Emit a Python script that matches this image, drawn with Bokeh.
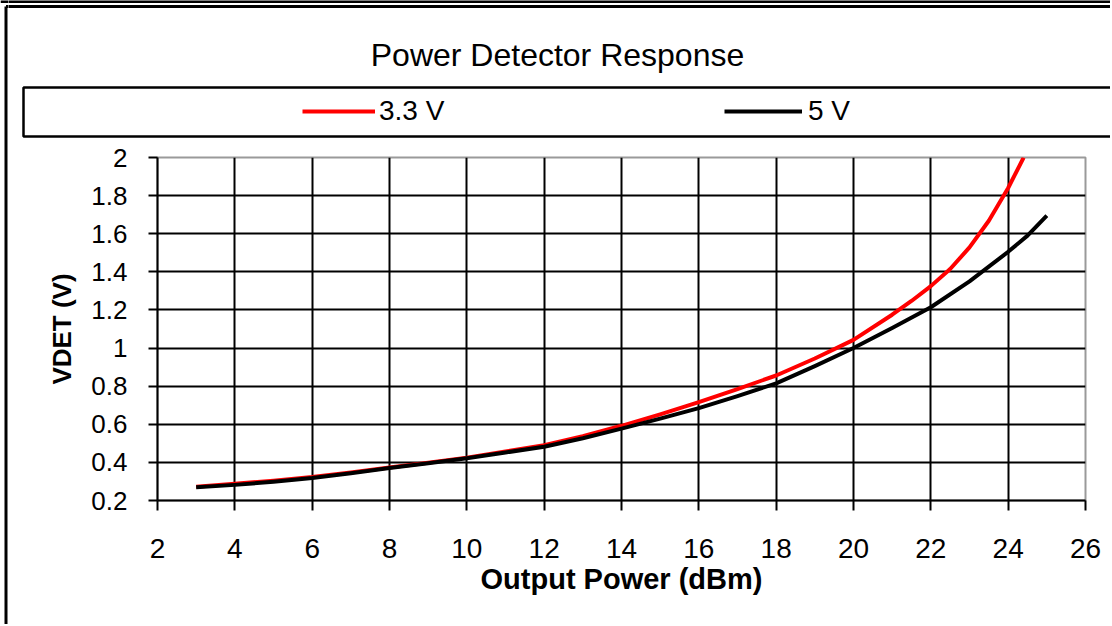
from bokeh.plotting import figure
from bokeh.layouts import column, row
from bokeh.models import (Range1d, FixedTicker, NumeralTickFormatter, Label,
                          Legend, LegendItem)
from bokeh.embed import file_html
from bokeh.resources import INLINE

# ---- data ----
power_3v3 = [3, 4, 5, 6, 7, 8, 9, 10, 11, 12, 13, 14, 15, 16, 17, 18, 19, 20, 21, 21.5, 22,
             22.5, 23, 23.5, 24, 24.4]
vdet_3v3 = [0.272, 0.288, 0.304, 0.323, 0.347, 0.373, 0.398, 0.425, 0.457, 0.49, 0.538,
            0.592, 0.652, 0.716, 0.785, 0.856, 0.945, 1.043, 1.175, 1.247, 1.325,
            1.415, 1.528, 1.668, 1.84, 2.0]
power_5v = [3, 4, 5, 6, 7, 8, 9, 10, 11, 12, 13, 14, 15, 16, 17, 18, 19, 20, 21, 22, 23, 24,
            24.5, 25]
vdet_5v = [0.27, 0.282, 0.298, 0.318, 0.343, 0.37, 0.396, 0.422, 0.452, 0.482, 0.527,
           0.577, 0.63, 0.685, 0.748, 0.815, 0.905, 1.0, 1.105, 1.214, 1.35, 1.505,
           1.59, 1.695]
x_ticks = [2, 4, 6, 8, 10, 12, 14, 16, 18, 20, 22, 24, 26]
y_ticks = [0.2, 0.4, 0.6, 0.8, 1.0, 1.2, 1.4, 1.6, 1.8, 2.0]
series_names = ["3.3 V", "5 V"]
series_colors = ["#ff0000", "#000000"]
title_text = "Power Detector Response"
x_label = "Output Power (dBm)"
y_label = "VDET (V)"

FONT = "Liberation Sans"
TOTAL_W, TOTAL_H = 1110, 624
L_W = 8
H_HEAD = 139
BODY_W = TOTAL_W - L_W
H_BODY = TOTAL_H - H_HEAD


def bare(width, height, xr, yr):
    f = figure(width=width, height=height, x_range=xr, y_range=yr,
               x_axis_type=None, y_axis_type=None, output_backend="svg",
               toolbar_location=None, title=None, min_border=0)
    f.outline_line_color = None
    f.background_fill_color = "white"
    f.border_fill_color = "white"
    f.frame_align = False
    return f


# ---- left strip: chart border (full height) ----
strip = bare(L_W, TOTAL_H, Range1d(0, L_W), Range1d(TOTAL_H, 0))
strip.multi_line(xs=[[5.5, 5.5], [0, 10], [5.5, 10]], ys=[[6, TOTAL_H + 20], [1, 1], [6, 6]],
                 line_color="black", line_width=3)

# ---- header: chart border, title, legend (coordinates = page pixels) ----
head = bare(BODY_W, H_HEAD, Range1d(L_W, TOTAL_W), Range1d(H_HEAD, 0))
head.multi_line(xs=[[0, 1200], [0, 1200]], ys=[[1, 1], [6, 6]],
                line_color="black", line_width=3)
head.quad(left=[23], right=[1200], top=[87], bottom=[136], fill_alpha=0,
          line_color="black", line_width=2.5)
head.add_layout(Label(x=557, y=54, text=title_text, text_align="center",
                      text_baseline="middle", text_font=FONT, text_font_size="32px",
                      text_color="black"))
legend_specs = ((series_names[0], series_colors[0], 302 - L_W, 73, 4),
                (series_names[1], series_colors[1], 724 - L_W, 78, 6))
for name, col, xpos, gw, so in legend_specs:
    # swatch-only renderer placed outside the header's visible range
    dummy = head.line(x=[-50, -40], y=[-50, -50], line_color=col, line_width=4)
    leg = Legend(items=[LegendItem(label=name, renderers=[dummy])], location=(xpos, 12),
                 border_line_alpha=0, background_fill_alpha=0, padding=0, margin=0,
                 glyph_width=gw, glyph_height=30, label_height=30, label_standoff=so,
                 label_text_font=FONT, label_text_font_size="28px",
                 label_text_color="black")
    head.add_layout(leg)

# ---- main chart ----
p = figure(width=BODY_W, height=H_BODY, x_range=Range1d(2, 26), y_range=Range1d(0.2, 2.0),
           output_backend="svg", toolbar_location=None, title=None,
           min_border_left=149, min_border_right=25, min_border_top=18, min_border_bottom=124)
p.frame_align = False
p.background_fill_color = "white"
p.border_fill_color = "white"
p.outline_line_color = "#9a9a9a"
p.outline_line_width = 2

for ax in (p.xaxis[0], p.yaxis[0]):
    ax.axis_line_color = "black"
    ax.axis_line_width = 2
    ax.major_tick_line_color = "black"
    ax.major_tick_line_width = 2
    ax.major_tick_in = 0
    ax.minor_tick_line_color = None
    ax.major_label_text_font = FONT
    ax.major_label_text_color = "black"
    ax.axis_label_text_font = FONT
    ax.axis_label_text_font_style = "bold"
    ax.axis_label_text_color = "black"

p.xaxis.ticker = FixedTicker(ticks=x_ticks)
p.yaxis.ticker = FixedTicker(ticks=y_ticks)
p.yaxis.formatter = NumeralTickFormatter(format="0.[0]")

p.xaxis.major_tick_out = 10
p.xaxis.major_label_text_font_size = "28px"
p.xaxis.major_label_standoff = 28
p.xaxis.axis_label = x_label
p.xaxis.axis_label_text_font_size = "29px"
p.xaxis.axis_label_standoff = 2

p.yaxis.major_tick_out = 9
p.yaxis.major_label_text_font_size = "26px"
p.yaxis.major_label_standoff = 21
p.yaxis.axis_label = y_label
p.yaxis.axis_label_text_font_size = "26px"
p.yaxis.axis_label_standoff = 11

p.xgrid.grid_line_color = "black"
p.xgrid.grid_line_width = 2
p.ygrid.grid_line_color = "black"
p.ygrid.grid_line_width = 2

p.line(power_3v3, vdet_3v3, line_color=series_colors[0], line_width=4, line_join="round")
p.line(power_5v, vdet_5v, line_color=series_colors[1], line_width=4, line_join="round")

layout = row(strip, column(head, p, spacing=0), spacing=0)
open("out.html", "w").write(file_html(layout, INLINE))
